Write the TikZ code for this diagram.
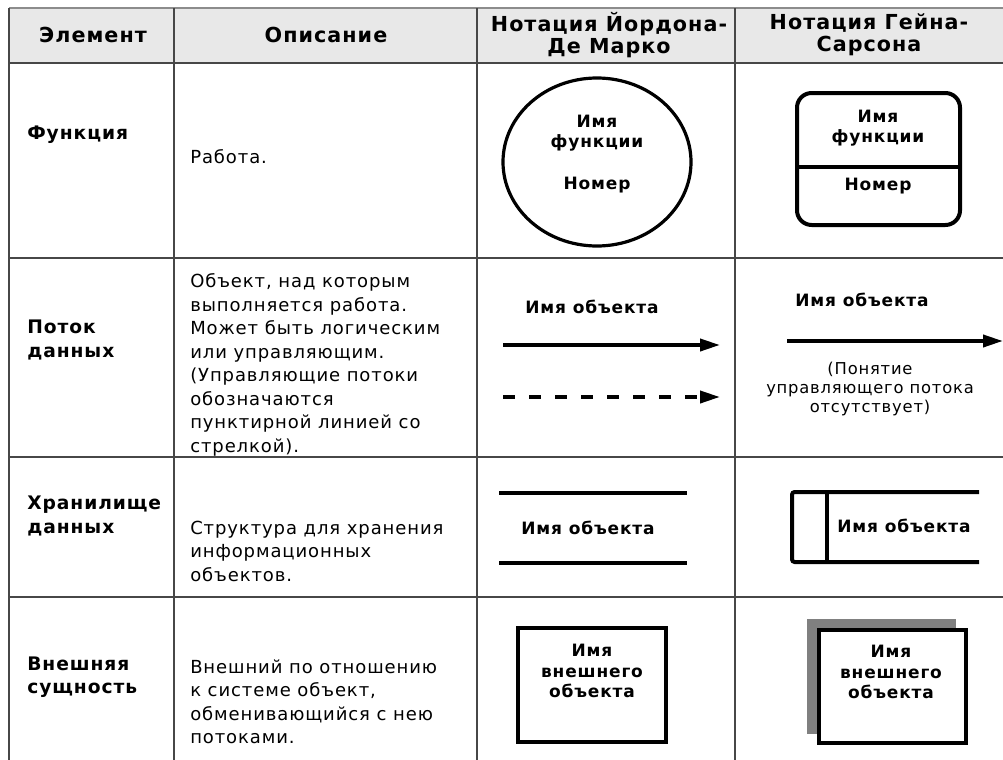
\documentclass[tikz,border=0pt]{standalone}
\usepackage{fontspec}
\setmainfont{DejaVu Sans}[LetterSpace=5]
\usetikzlibrary{arrows.meta}

\newcommand{\hdrfont}{\fontsize{15.5}{16.5}\selectfont\bfseries}
\newcommand{\elemfont}{\fontsize{14}{17.5}\selectfont\bfseries}
\newcommand{\descfont}{\fontsize{13.5}{17.6}\selectfont}
\newcommand{\namefont}{\fontsize{12.75}{15.5}\selectfont\bfseries}
\newcommand{\notefont}{\fontsize{12.25}{14}\selectfont}

\begin{document}
\begin{tikzpicture}[x=0.75pt,y=-0.75pt]
      \tikzset{grid line/.style={draw=black!72, line width=1.5pt},
        hdr/.style={font=\hdrfont, align=center, inner sep=0pt},
        elem/.style={anchor=west, font=\elemfont, align=left, inner sep=0pt},
        desc/.style={anchor=west, font=\descfont, align=left, inner sep=0pt},
        symlabel/.style={font=\namefont, align=center, inner sep=0pt},
        notetext/.style={font=\notefont, align=center, inner sep=0pt},
        heavy/.style={line width=3pt},
        flow arrow/.style={line width=2.8pt, -{Triangle[length=15pt,width=9pt]}}
      }
      \useasboundingbox (0,0) rectangle (1003,760);
      \clip (0,0) rectangle (1003,760);
      % table
      \fill [black!9] (9,8) rectangle (1003,63);
      \draw [grid line, draw=black!45, line width=2.2pt] (9,8)--(1003,8);
      \foreach \y in {63,258,457,597}
        \draw [grid line] (9,\y)--(1003,\y);
      \foreach \x in {9,174,477,735}
        \draw [grid line] (\x,8)--(\x,760);
      % header
      \node [hdr] (hElem) at (93,35) {Элемент};
      \node [hdr] (hDesc) at (326,35) {Описание};
      \node [hdr] (hYdm) at (609,35) {Нотация Йордона-\\Де Марко};
      \node [hdr] (hGs) at (869,35) {Нотация Гейна-\\Сарсона};
      % left columns
      \node [elem] (eFunc) at (27,135) {Функция};
      \node [desc] (dFunc) at (190,157) {Работа.};
      \node [elem] (eFlow) at (27,340) {Поток\\данных};
      \node [desc] (dFlow) at (190,365) {Объект, над которым\\выполняется работа.\\Может быть логическим\\или управляющим.\\(Управляющие потоки\\обозначаются\\пунктирной линией со\\стрелкой).};
      \node [elem] (eStore) at (27,516) {Хранилище\\данных};
      \node [desc] (dStore) at (190,551) {Структура для хранения\\информационных\\объектов.};
      \node [elem] (eExt) at (27,677) {Внешняя\\сущность};
      \node [desc] (dExt) at (190,702) {Внешний по отношению\\к системе объект,\\обменивающийся с нею\\потоками.};
      % function
      \draw [line width=2.4pt] (597,162) ellipse [x radius=94, y radius=84];
      \node [symlabel] (yFunc) at (597,133) {Имя\\функции};
      \node [symlabel] (yNum) at (597,185) {Номер};
      \draw [heavy, rounded corners=11pt] (797,93) rectangle (960,225);
      \draw [heavy] (797,167)--(960,167);
      \node [symlabel] (gFunc) at (878,128) {Имя\\функции};
      \node [symlabel] (gNum) at (878,186) {Номер};
      % data flow
      \node [symlabel] (yFlow) at (592,307) {Имя объекта};
      \coordinate (yA) at (503,345); \coordinate (yB) at (720,345);
      \coordinate (yC) at (503,397); \coordinate (yD) at (720,397);
      \draw [flow arrow] (yA)--(yB);
      \draw [flow arrow, dash pattern=on 9pt off 10.5pt] (yC)--(yD);
      \node [symlabel] (gFlow) at (862,300) {Имя объекта};
      \coordinate (gA) at (787,341); \coordinate (gB) at (1003,341);
      \draw [flow arrow] (gA)--(gB);
      \node [notetext] (gNote) at (870,389) {(Понятие\\управляющего потока\\отсутствует)};
      % data store
      \draw [heavy] (499,493)--(687,493);
      \draw [heavy] (499,563)--(687,563);
      \node [symlabel] (yStore) at (588,528) {Имя объекта};
      \draw [heavy, rounded corners=2pt] (979,492)--(792,492)--(792,562)--(979,562);
      \draw [heavy] (827,492)--(827,562);
      \node [symlabel] (gStore) at (904,526) {Имя объекта};
      % external entity
      \draw [heavy] (518,628) rectangle (666,742);
      \node [symlabel] (yExt) at (592,671) {Имя\\внешнего\\объекта};
      \fill [black!50] (807,619) rectangle (956,734);
      \draw [heavy, fill=white] (819,630) rectangle (966,743);
      \node [symlabel] (gExt) at (891,672) {Имя\\внешнего\\объекта};
\end{tikzpicture}
\end{document}
